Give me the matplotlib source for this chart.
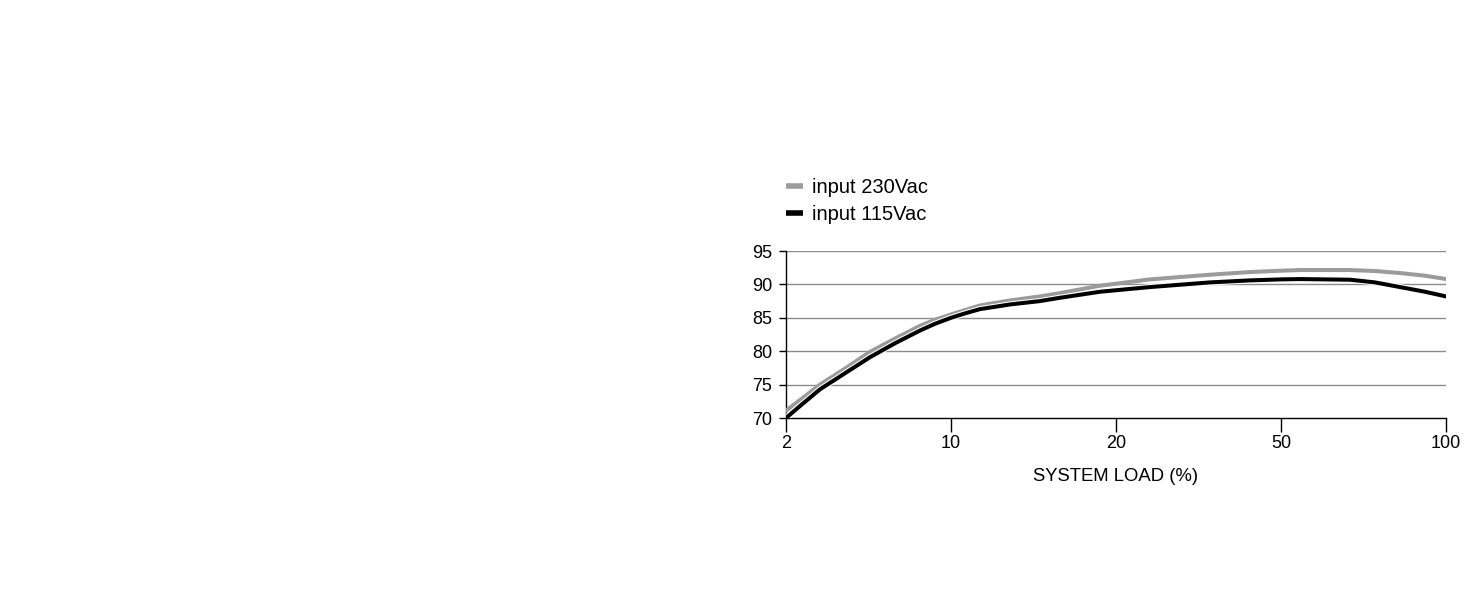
import numpy as np
import matplotlib
matplotlib.use("Agg")
import matplotlib.pyplot as plt
import matplotlib.patheffects as pe

plt.rcParams['font.family'] = ['Liberation Sans', 'DejaVu Sans']

# Category ticks (evenly spaced on axis)
tick_loads = [2, 10, 20, 50, 100]
tick_labels = ["2", "10", "20", "50", "100"]
y_ticks = [70, 75, 80, 85, 90, 95]

# Series (load %, efficiency %)
load = [2, 2.68, 3.65, 4.86, 6.07, 7.29, 8.5, 9.22, 10, 10.9, 11.76, 13.58, 15.39,
        16.61, 19.03, 26.18, 37.09, 44.36, 50, 55.76, 70.91, 78.48, 86.06, 93.64, 100]
eff_230 = [71.1, 72.7, 75.0, 77.4, 79.9, 81.9, 83.8, 84.7, 85.5, 86.2, 86.85, 87.6, 88.2,
           88.7, 89.8, 90.75, 91.45, 91.85, 92.05, 92.15, 92.15, 92.0, 91.7, 91.3, 90.8]
eff_115 = [70.0, 71.8, 74.3, 76.7, 79.1, 81.2, 83.1, 84.1, 85.0, 85.7, 86.3, 87.0, 87.5,
           88.0, 88.9, 89.6, 90.3, 90.6, 90.75, 90.8, 90.7, 90.3, 89.6, 88.9, 88.2]

idx = np.arange(len(tick_loads), dtype=float)


def fwd(x):
    return np.interp(x, tick_loads, idx)


def inv(x):
    return np.interp(x, idx, tick_loads)


fig = plt.figure(figsize=(14.64, 6.0), dpi=100)
ax = fig.add_axes([786 / 1464, 1 - 418 / 600, (1446 - 786) / 1464, (418 - 251) / 600])
ax.set_xscale('function', functions=(fwd, inv))
ax.set_xlim(2, 100)
ax.set_ylim(70, 95)

for v in y_ticks[1:]:
    ax.axhline(v, color='#8c8c8c', lw=1.0, zorder=1)

l1, = ax.plot(load, eff_230, color='#9b9b9b', lw=2.9, solid_joinstyle='round',
              label='input 230Vac', zorder=3)
l2, = ax.plot(load, eff_115, color='#000000', lw=2.9, solid_joinstyle='round',
              label='input 115Vac', zorder=4,
              path_effects=[pe.Stroke(linewidth=4.4, foreground='white'), pe.Normal()])

ax.set_xticks(tick_loads)
ax.set_xticklabels(tick_labels)
ax.xaxis.set_minor_locator(matplotlib.ticker.NullLocator())
ax.set_yticks(y_ticks)
ax.set_yticklabels([str(v) for v in y_ticks])

for s in ['top', 'right']:
    ax.spines[s].set_visible(False)
ax.spines['left'].set_color('#000000')
ax.spines['bottom'].set_color('#000000')
ax.spines['left'].set_linewidth(1.0)
ax.spines['bottom'].set_linewidth(1.0)

ax.tick_params(axis='x', direction='out', length=10, width=1, colors='#000000',
               labelsize=13, pad=2)
ax.tick_params(axis='y', direction='out', length=5, width=1, colors='#000000',
               labelsize=13, pad=5)

ax.set_xlabel('SYSTEM LOAD (%)', fontsize=13.3, labelpad=12)

leg = ax.legend(handles=[l1, l2], loc='lower left', bbox_to_anchor=(0.0, 1.16),
                frameon=False, fontsize=14.5, handlelength=0.85, handletextpad=0.45,
                borderaxespad=0, borderpad=0, labelspacing=0.42)
for h in leg.legend_handles:
    h.set_linewidth(4)
    h.set_path_effects([])
    h.set_solid_capstyle('butt')

fig.savefig('out.png', dpi=100, facecolor='white')
